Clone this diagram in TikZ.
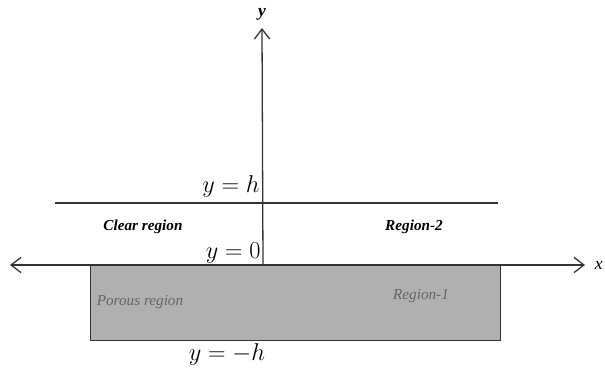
\documentclass[tikz,border=0pt]{standalone}
\usepackage{fontspec}
\setmainfont{Liberation Serif}
\usetikzlibrary{arrows.meta}

\begin{document}
\begin{tikzpicture}[
    x=0.03cm, y=-0.03cm,
    axis line/.style={line width=1.1pt, black!80, -{Straight Barb[length=3mm, width=4.6mm]}},
    bound line/.style={line width=1.1pt, black!80},
    region label/.style={font=\fontsize{13}{15}\selectfont\bfseries\itshape},
    porous label/.style={font=\fontsize{13}{15}\selectfont\itshape, text=black!60},
    level label/.style={font=\fontsize{22}{26}\selectfont, inner sep=1pt}
]
\useasboundingbox (0,0) rectangle (605,376);

% porous layer
\node[draw=black!80, line width=1.1pt, fill=gray!62, minimum width=410*0.03cm, minimum height=75*0.03cm,
      inner sep=0pt, anchor=north west] (porous) at (90,265) {};

% axes
\coordinate (xleft)  at (10,265);
\coordinate (xright) at (585,265);
\coordinate (origin) at (263,265);
\coordinate (ytop)   at (262,28);
\draw[axis line, {Straight Barb[length=3mm, width=4.6mm]}-{Straight Barb[length=3mm, width=4.6mm]}] (xleft) -- (xright);
\draw[axis line] (origin) -- (ytop);
\node[font=\fontsize{15}{18}\selectfont\bfseries\itshape] (ylab) at (262,14) {y};
\node[font=\fontsize{15}{18}\selectfont\itshape, anchor=east, inner sep=1pt] (xlab) at (604,265) {x};

% upper boundary y = h
\coordinate (hleft)  at (55,203);
\coordinate (hright) at (498,203);
\draw[bound line] (hleft) -- (hright);

% levels
\node[level label, anchor=east] (yh)  at (261,186) {$y=h$};
\node[level label, anchor=east] (y0)  at (262,253) {$y=0$};
\node[level label] (ymh) at (227,354) {$y=-h$};

% region names
\node[region label] (clear)  at (143,227) {Clear region};
\node[region label] (reg2)   at (414,227) {Region-2};
\node[porous label] (poro)   at (140,302) {Porous region};
\node[porous label] (reg1)   at (421,296) {Region-1};

\end{tikzpicture}
\end{document}
